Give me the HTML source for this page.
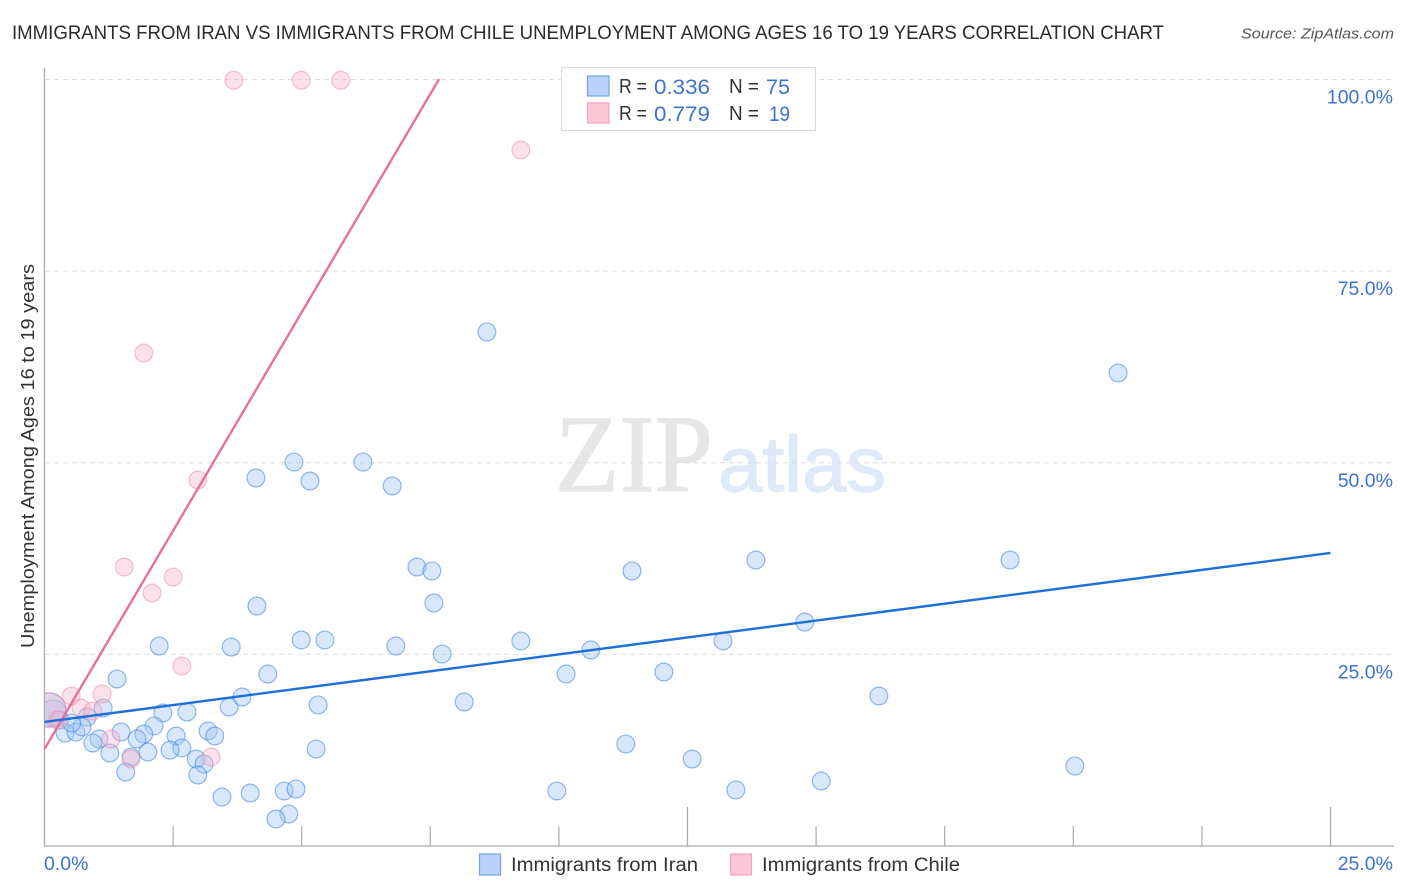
<!DOCTYPE html>
<html lang="en">
<head>
<meta charset="utf-8">
<title>Immigrants from Iran vs Immigrants from Chile Unemployment Correlation Chart</title>
<style>
html,body{margin:0;padding:0;background:#fff;width:1406px;height:892px;overflow:hidden}
svg{display:block;font-family:"Liberation Sans",sans-serif}
</style>
</head>
<body>
<svg id="chart" width="1406" height="892" viewBox="0 0 1406 892" xmlns="http://www.w3.org/2000/svg">
  <defs><clipPath id="plot-clip"><rect x="45" y="60" width="1349" height="786"/></clipPath></defs>
  <text x="12" y="39" font-size="19.5" fill="#2a2a2e" textLength="1152" lengthAdjust="spacingAndGlyphs">IMMIGRANTS FROM IRAN VS IMMIGRANTS FROM CHILE UNEMPLOYMENT AMONG AGES 16 TO 19 YEARS CORRELATION CHART</text>
  <text x="1241" y="38.5" font-size="15" font-style="italic" fill="#555" textLength="153" lengthAdjust="spacingAndGlyphs">Source: ZipAtlas.com</text>
  <g>
    <text x="555" y="491" font-family="'Liberation Serif',serif" font-size="110" fill="#e6e6e6" stroke="#e6e6e6" stroke-width="1.2" textLength="158" lengthAdjust="spacingAndGlyphs">ZIP</text>
    <text x="718" y="491" font-size="78" fill="#dfe9f9" stroke="#dfe9f9" stroke-width="1.2" textLength="168" lengthAdjust="spacingAndGlyphs">atlas</text>
  </g>
  <g id="grid"></g>
  <g id="axes"></g>
  <g id="iran-points" clip-path="url(#plot-clip)"></g>
  <g id="chile-points" clip-path="url(#plot-clip)"></g>
  <g id="trend-lines"></g>
  <text transform="translate(34 456) rotate(-90)" text-anchor="middle" font-size="18.5" fill="#333" textLength="384" lengthAdjust="spacingAndGlyphs">Unemployment Among Ages 16 to 19 years</text>
  <g>
    <rect x="561.5" y="67.5" width="254" height="63" fill="#fff" stroke="#dcdcdc" stroke-width="1.2"/>
    <rect x="587.5" y="76" width="21.5" height="20" fill="#b8d3f7" stroke="#73a5e6" stroke-width="1.2"/>
    <rect x="587.5" y="103" width="21.5" height="20" fill="#fcc6d7" stroke="#f0a3bc" stroke-width="1.2"/>
    <g font-size="20" fill="#333">
      <text x="619" y="93" textLength="28" lengthAdjust="spacingAndGlyphs">R =</text>
      <text x="729" y="93" textLength="30" lengthAdjust="spacingAndGlyphs">N =</text>
      <text x="619" y="120" textLength="28" lengthAdjust="spacingAndGlyphs">R =</text>
      <text x="729" y="120" textLength="30" lengthAdjust="spacingAndGlyphs">N =</text>
    </g>
    <g font-size="21" fill="#3d72d1">
      <text x="654" y="94" textLength="56" lengthAdjust="spacingAndGlyphs">0.336</text>
      <text x="766" y="94" textLength="24" lengthAdjust="spacingAndGlyphs">75</text>
      <text x="654" y="121" textLength="56" lengthAdjust="spacingAndGlyphs">0.779</text>
      <text x="769" y="121" textLength="21" lengthAdjust="spacingAndGlyphs">19</text>
    </g>
  </g>
  <g>
    <rect x="479.5" y="854" width="21" height="21" fill="#b8d3f7" stroke="#73a5e6" stroke-width="1.2"/>
    <text x="511" y="871" font-size="19" fill="#333" textLength="187" lengthAdjust="spacingAndGlyphs">Immigrants from Iran</text>
    <rect x="730.5" y="854" width="21" height="21" fill="#fcc6d7" stroke="#f0a3bc" stroke-width="1.2"/>
    <text x="762" y="871" font-size="19" fill="#333" textLength="198" lengthAdjust="spacingAndGlyphs">Immigrants from Chile</text>
  </g>
</svg>
<script>
const yTickValues = [25, 50, 75, 100];
const yTickLabels = ["25.0%", "50.0%", "75.0%", "100.0%"];
const xTickValues = [2.5, 5, 7.5, 10, 12.5, 15, 17.5, 20, 22.5, 25];
const xMajorTicks = [12.5, 25];
const xEndLabels = ["0.0%", "25.0%"];

const iranX = [8.60,20.87,4.85,6.19,4.11,5.16,6.76,7.24,7.53,11.42,13.83,18.77,4.13,7.57,14.78,4.99,5.45,9.26,3.63,6.83,2.23,10.62,7.73,13.19,12.04,10.14,4.34,1.41,16.22,3.84,8.16,5.32,3.59,1.14,2.30,2.77,0.17,0.30,0.83,2.13,3.18,1.49,1.93,2.56,3.31,1.80,0.40,0.61,0.73,0.53,1.06,0.94,11.30,5.28,2.67,2.44,2.01,1.27,1.68,2.95,3.10,12.59,20.03,1.58,2.98,15.10,9.96,13.44,3.45,4.00,4.66,4.89,4.75,4.50,0.09];
const iranY = [67.06,61.71,50.10,50.10,48.01,47.62,46.97,36.40,35.88,35.88,37.31,37.31,31.31,31.70,29.22,26.88,26.88,26.75,25.96,26.09,26.09,25.57,25.05,26.75,22.70,22.44,22.44,21.79,19.57,19.44,18.79,18.40,18.13,18.00,17.35,17.48,17.35,16.44,16.83,15.66,15.00,14.87,14.61,14.35,14.35,13.96,14.74,14.87,15.53,16.05,13.96,13.44,13.31,12.65,12.79,12.52,12.26,12.13,11.61,11.35,10.70,11.35,10.44,9.65,9.26,8.48,7.18,7.31,6.39,6.91,7.18,7.44,4.17,3.52,17.74];
const iranSizes = {36: 13, 74: 17};

const chileX = [3.68,4.99,5.76,9.26,1.93,2.98,1.55,2.50,2.09,2.67,0.52,1.12,0.71,0.94,1.29,1.68,3.24,0.09,0.26];
const chileY = [99.9,99.9,99.9,90.80,64.32,47.75,36.40,35.09,33.01,23.48,19.57,19.83,18.00,17.61,13.96,11.35,11.61,17.74,16.44];
const chileSizes = {17: 17};

const iranTrendX = [0, 25];
const iranTrendY = [16.18, 38.23];
const chileTrendX = [0, 7.67];
const chileTrendY = [12.65, 100.05];

const xScale = v => 44.5 + v * 51.44;
const yScale = v => 846 - v * 7.665;
const NS = "http://www.w3.org/2000/svg";
function make(tag, parent, props) {
  const el = document.createElementNS(NS, tag);
  for (const k in props) el.setAttribute(k, props[k]);
  document.getElementById(parent).appendChild(el);
  return el;
}

yTickValues.forEach((v, i) => {
  const line = make("line", "grid", {x1: 45, x2: 1394, y1: yScale(v), y2: yScale(v), stroke: "#dedede", "stroke-width": 1, "stroke-dasharray": "5 4"});
  
  
  const label = make("text", "axes", {x: 1393, y: yScale(v) + 24, "text-anchor": "end", "font-size": 19.5, fill: "#3d72d1"});
  label.textContent = yTickLabels[i];
  
  
});

const yAxis = make("line", "axes", {x1: 44.5, x2: 44.5, y1: 68, y2: 846, stroke: "#aaa", "stroke-width": 1.3});


const xAxis = make("line", "axes", {x1: 44, x2: 1394, y1: 846, y2: 846, stroke: "#aaa", "stroke-width": 1.3});



xTickValues.forEach(v => {
  const tick = make("line", "axes", {x1: xScale(v), x2: xScale(v), y1: xMajorTicks.includes(v) ? 807 : 826, y2: 846, stroke: "#aaa", "stroke-width": 1.2});
  
  
});

const xLabelLeft = make("text", "axes", {x: 44, y: 870, "font-size": 19.5, fill: "#3d72d1"});
xLabelLeft.textContent = xEndLabels[0];


const xLabelRight = make("text", "axes", {x: 1393, y: 870, "text-anchor": "end", "font-size": 19.5, fill: "#3d72d1"});
xLabelRight.textContent = xEndLabels[1];



iranX.forEach((v, i) => {
  const dot = make("circle", "iran-points", {cx: xScale(v), cy: yScale(iranY[i]), r: iranSizes[i] || 8.9, fill: "#a3c6f3", "fill-opacity": 0.42, stroke: "#4a8ae0", "stroke-opacity": 0.6, "stroke-width": 1.2});
  
  
});
chileX.forEach((v, i) => {
  const dot = make("circle", "chile-points", {cx: xScale(v), cy: yScale(chileY[i]), r: chileSizes[i] || 8.9, fill: "#f7b3ca", "fill-opacity": 0.4, stroke: "#ec8dad", "stroke-opacity": 0.55, "stroke-width": 1.2});
  
  
});

const chileLine = make("line", "trend-lines", {x1: xScale(chileTrendX[0]), y1: yScale(chileTrendY[0]), x2: xScale(chileTrendX[1]), y2: yScale(chileTrendY[1]), stroke: "#e8709a", "stroke-width": 2.4});


const iranLine = make("line", "trend-lines", {x1: xScale(iranTrendX[0]), y1: yScale(iranTrendY[0]), x2: xScale(iranTrendX[1]), y2: yScale(iranTrendY[1]), stroke: "#1f6fd8", "stroke-width": 2.4});


</script>
</body>
</html>
